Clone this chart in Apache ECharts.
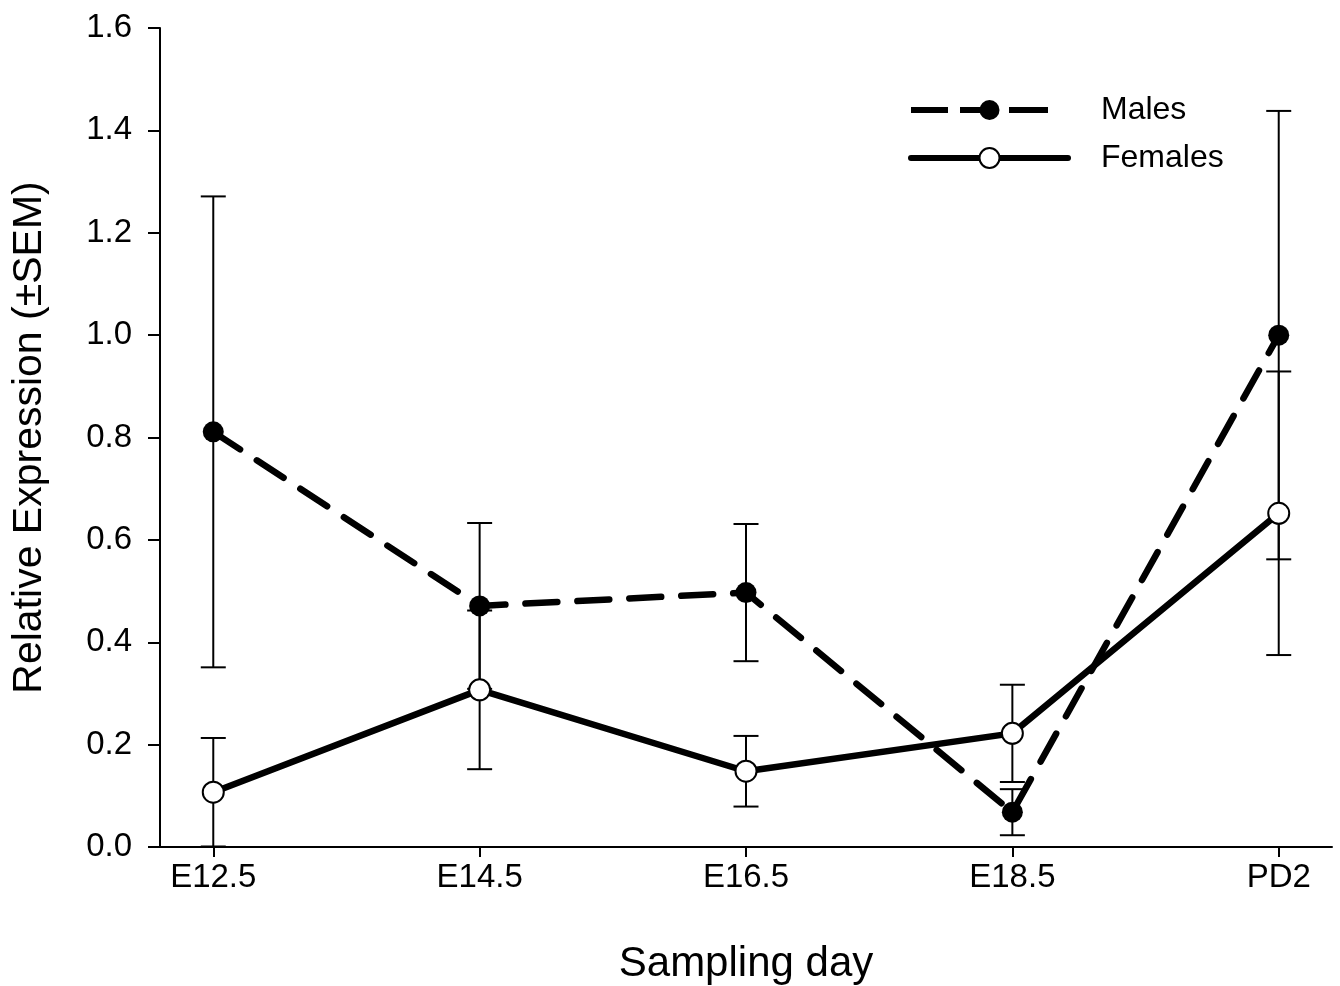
<!DOCTYPE html>
<html>
<head>
    <title></title>
    <script src="https://cdn.jsdelivr.net/npm/echarts@6/dist/echarts.min.js"></script>
</head>
<body style="margin:0">
<div id="main" style="width: 1340px;height:986px;"></div>
<script type="text/javascript">
var days = ['E12.5', 'E14.5', 'E16.5', 'E18.5', 'PD2'];
var malesMean = [0.811, 0.471, 0.497, 0.068, 1.0];
var malesSem = [0.46, 0.162, 0.134, 0.045, 0.438];
var femalesMean = [0.107, 0.307, 0.148, 0.222, 0.652];
var femalesSem = [0.106, 0.155, 0.069, 0.095, 0.277];
var yTicks = [0, 0.2, 0.4, 0.6, 0.8, 1.0, 1.2, 1.4, 1.6];

var font = 'Liberation Sans, Arial, sans-serif';
var xIdx = days.map(function (d, i) { return i; });

function points(mean) {
    return mean.map(function (v, i) { return [i, v]; });
}
function bars(mean, sem) {
    return mean.map(function (v, i) { return [i, v - sem[i], v + sem[i]]; });
}

// error bars with caps
function errorBar(params, api) {
    var x = api.value(0);
    var lo = api.coord([x, api.value(1)]);
    var hi = api.coord([x, api.value(2)]);
    var w = 12.5;
    var st = {stroke: '#000', lineWidth: 2};
    return {
        type: 'group',
        children: [
            {type: 'line', shape: {x1: lo[0], y1: lo[1], x2: hi[0], y2: hi[1]}, style: st},
            {type: 'line', shape: {x1: lo[0] - w, y1: lo[1], x2: lo[0] + w, y2: lo[1]}, style: st},
            {type: 'line', shape: {x1: hi[0] - w, y1: hi[1], x2: hi[0] + w, y2: hi[1]}, style: st}
        ]
    };
}

var myChart = echarts.init(document.getElementById('main'));
myChart.setOption({
    backgroundColor: '#fff',
    animation: false,
    textStyle: {fontFamily: font, color: '#000'},
    grid: {left: 160, right: 8, top: 28, bottom: 139, outerBoundsMode: 'none'},
    legend: {
        orient: 'vertical',
        left: 903,
        top: 89,
        itemWidth: 157,
        itemHeight: 25,
        itemGap: 16,
        textStyle: {fontSize: 32, fontFamily: font, color: '#000', lineHeight: 25, padding: [0, 0, 0, 28]},
        lineStyle: {width: 6},
        data: [
            {name: 'Males', itemStyle: {color: '#000'}, lineStyle: {width: 6, type: [37, 12, 37, 12, 39, 20], cap: 'butt'}},
            {name: 'Females', itemStyle: {color: '#fff', borderColor: '#000', borderWidth: 2}}
        ]
    },
    xAxis: {
        type: 'value',
        min: -0.2,
        max: 4.2,
        name: 'Sampling day',
        nameLocation: 'middle',
        nameGap: 96,
        nameTextStyle: {fontSize: 42, fontFamily: font, color: '#000'},
        splitLine: {show: false},
        axisLine: {lineStyle: {color: '#000', width: 2}},
        axisTick: {customValues: xIdx, length: 10, lineStyle: {color: '#000', width: 2}},
        axisLabel: {
            customValues: xIdx,
            fontSize: 33,
            color: '#000',
            margin: 14,
            formatter: function (v) { return days[Math.round(v)]; }
        }
    },
    yAxis: {
        type: 'value',
        min: 0,
        max: 1.6,
        interval: 0.2,
        name: 'Relative Expression (±SEM)',
        nameLocation: 'middle',
        nameGap: 110,
        nameTextStyle: {fontSize: 41, fontFamily: font, color: '#000'},
        splitLine: {show: false},
        axisLine: {show: true, onZero: false, lineStyle: {color: '#000', width: 2}},
        axisTick: {show: true, length: 12, lineStyle: {color: '#000', width: 2}},
        axisLabel: {
            fontSize: 33,
            color: '#000',
            margin: 28,
            customValues: yTicks,
            formatter: function (v) { return v.toFixed(1); }
        }
    },
    series: [
        {
            type: 'custom',
            name: 'malesErr',
            renderItem: errorBar,
            encode: {x: 0, y: [1, 2]},
            data: bars(malesMean, malesSem),
            z: 1
        },
        {
            type: 'custom',
            name: 'femalesErr',
            renderItem: errorBar,
            encode: {x: 0, y: [1, 2]},
            data: bars(femalesMean, femalesSem),
            z: 1
        },
        {
            type: 'line',
            name: 'Males',
            data: points(malesMean),
            symbol: 'circle',
            symbolSize: 21,
            itemStyle: {color: '#000'},
            lineStyle: {color: '#000', width: 6.5, type: [32, 20], cap: 'round'},
            z: 3
        },
        {
            type: 'line',
            name: 'Females',
            data: points(femalesMean),
            symbol: 'circle',
            symbolSize: 21,
            itemStyle: {color: '#fff', borderColor: '#000', borderWidth: 2},
            lineStyle: {color: '#000', width: 6.5, cap: 'round'},
            z: 4
        }
    ]
});
</script>
</body>
</html>
